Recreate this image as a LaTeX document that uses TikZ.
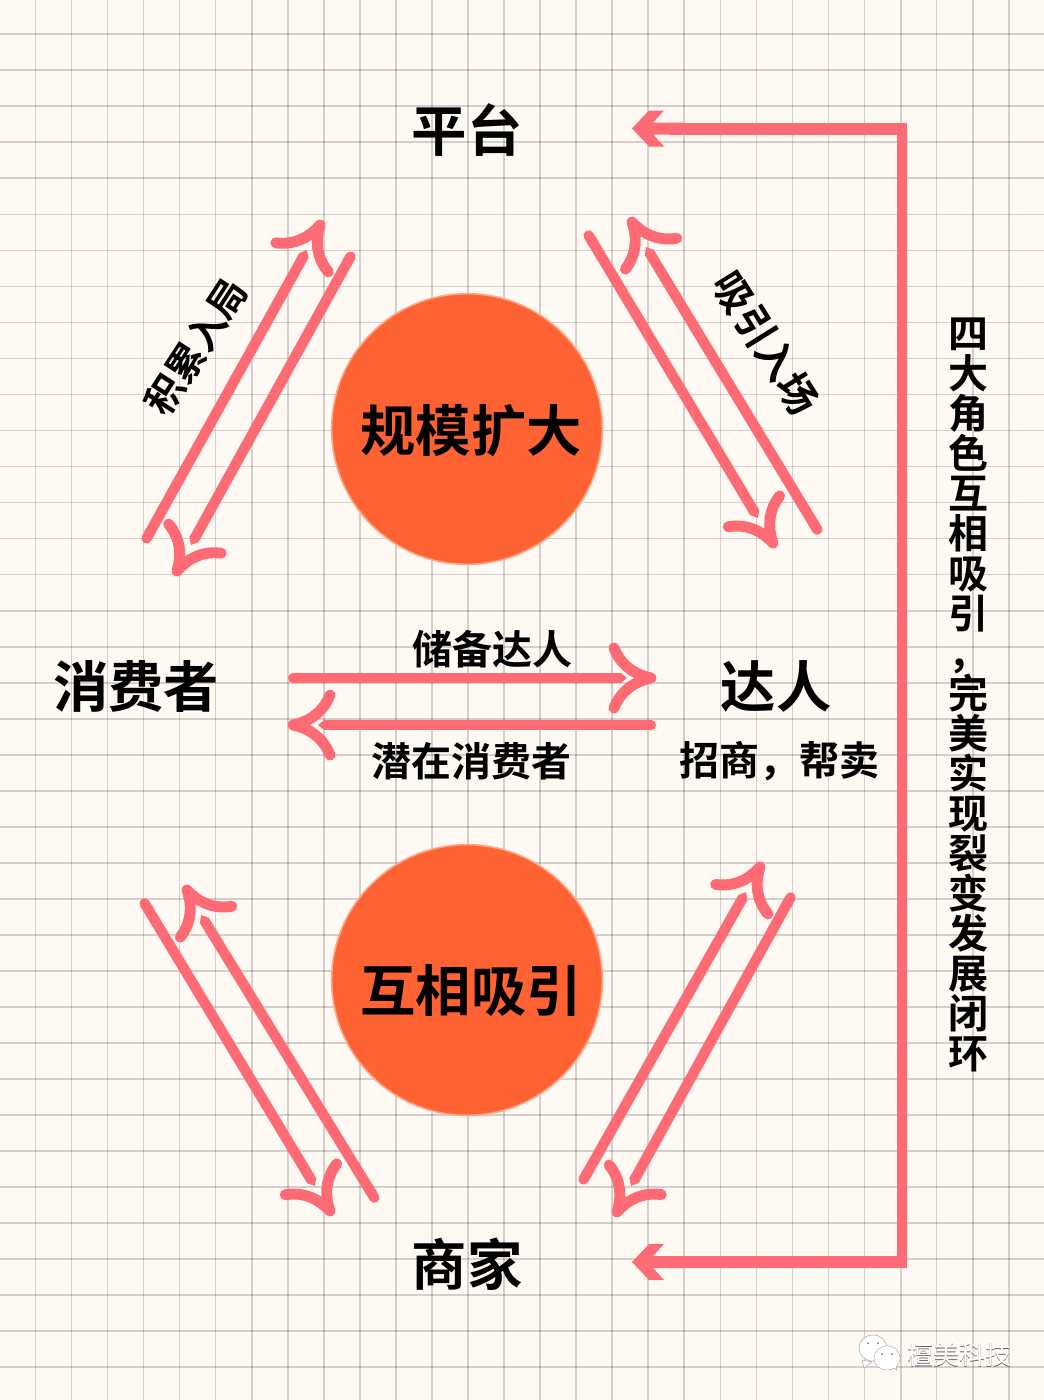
\documentclass[tikz,border=0pt]{standalone}
\usepackage{fontspec}
\setmainfont{Noto Sans CJK SC}
\newfontfamily\cjkbold{Noto Sans CJK SC Bold}
\usetikzlibrary{arrows.meta}
\definecolor{bgc}{HTML}{FFF9F3}
\definecolor{hlc}{HTML}{FF6B74}
\definecolor{disc}{HTML}{FF6333}
\tikzset{
  x=0.75pt,y=-0.75pt,
  gridln/.style={black,opacity=.17,line width=1.25pt},
  shaft/.style={hlc,line width=7.8pt,{Round Cap[]}-{Triangle[length=5pt,width=7.8pt]}},
  barbline/.style={hlc,line width=8.2pt,line cap=round,line join=round},
  barbs/.pic={\draw[barbline] (-37,-30) .. controls (-30,-12) and (-15,-3) .. (0,0) .. controls (-15,3) and (-30,12) .. (-37,30);},
  headpoly/.style={fill=hlc,draw=none},
  disk/.style={circle,fill=disc,draw=disc!55!bgc,line width=1.2pt,minimum size=203pt,inner sep=0pt},
  big/.style={font=\cjkbold\fontsize{41.5pt}{41.5pt}\selectfont,inner sep=0pt,text=black},
  small/.style={font=\cjkbold\fontsize{30pt}{30pt}\selectfont,inner sep=0pt,text=black},
  bighd/.pic={\fill[headpoly] (-32,0) -- (-15,-18) -- (0,-18) -- (-11,-6) -- (20,-6) -- (20,6) -- (-11,6) -- (0,18) -- (-15,18) -- cycle;},
}
\begin{document}
\begin{tikzpicture}
\useasboundingbox (0,0) rectangle (1044,1400);
\fill[bgc] (0,0) rectangle (1044,1400);
\foreach \k in {0,...,28} {\draw[gridln] ({35.4+36.05*\k},0) -- ({35.4+36.05*\k},1400);}
\foreach \k in {0,...,37} {\draw[gridln] (0,{34.2+36.03*\k}) -- (1044,{34.2+36.03*\k});}
\draw[black,opacity=.15,line width=.8pt] (901.7,0) -- (901.7,1400);
% discs
\node[disk] (d1) at (467,429) {};
\node[disk] (d2) at (467,980) {};
\node[big] (t1) at (471,431) {规模扩大};
\node[big] (t2) at (471,990) {互相吸引};
% roles
\node[big] (plat) at (467,130) {平台};
\node[big] (cons) at (136,686) {消费者};
\node[big] (kol) at (776,686) {达人};
\node[big] (merch) at (467,1264) {商家};
% labels
\node[small] (l1) at (492,649) {储备达人};
\node[small] (l2) at (471,761) {潜在消费者};
\node[small] (l3) at (779,761) {招商，帮卖};
\node[small,rotate=57,font=\cjkbold\fontsize{28.5pt}{28.5pt}\selectfont] (l4) at (196,347) {积累入局};
\node[small,rotate=-58] (l5) at (766,343) {吸引入场};
\node[small,align=center,font=\cjkbold\fontsize{30pt}{30pt}\selectfont] (l6) at (968,695) {四\\大\\角\\色\\互\\相\\吸\\引\\，\\完\\美\\实\\现\\裂\\变\\发\\展\\闭\\环};
% ends
\coordinate (a1) at (288,678); \coordinate (b1) at (627,678); \coordinate (c1) at (651,678);
\coordinate (a2) at (656,725); \coordinate (b2) at (318,725); \coordinate (c2) at (293,725);
\coordinate (a3) at (144,543); \coordinate (b3) at (307,250); \coordinate (c3) at (320,225);
\coordinate (a4) at (353,252); \coordinate (b4) at (191,545); \coordinate (c4) at (177,571);
\coordinate (a5) at (820,534); \coordinate (b5) at (646,247); \coordinate (c5) at (632,222);
\coordinate (a6) at (586,231); \coordinate (b6) at (758,518); \coordinate (c6) at (773,543);
\coordinate (a7) at (142,899); \coordinate (b7) at (315,1186); \coordinate (c7) at (330,1211);
\coordinate (a8) at (377,1202); \coordinate (b8) at (201,915); \coordinate (c8) at (187,890);
\coordinate (a9) at (581,1184); \coordinate (b9) at (746,892); \coordinate (c9) at (760,867);
\coordinate (a10) at (793,893); \coordinate (b10) at (631,1186); \coordinate (c10) at (617,1212);
\foreach \n/\r in {1/0,2/180,3/61,4/241,5/121,6/-59,7/-59,8/121,9/60.5,10/240.5}{
  \draw[shaft] (a\n) -- (b\n);
  \pic[rotate=\r] at (c\n) {barbs};
}
% bracket
\coordinate (e1) at (670,128); \coordinate (e2) at (902,128); \coordinate (e3) at (902,1262); \coordinate (e4) at (670,1262);
\coordinate (f1) at (664,128.5); \coordinate (f2) at (664,1262);
\fill[hlc] (e1 |- 0,122.5) rectangle (907,134.5);
\fill[hlc] (e4 |- 0,1256) rectangle (907,1268);
\draw[hlc,line width=7.5pt] (e2) -- (e3);
\pic at (f1) {bighd};
\pic at (f2) {bighd};
% watermark
\fill[white,draw=black!35,line width=.4pt] (873,1348) ellipse (14 and 13);
\fill[white,draw=black!35,line width=.4pt] (862,1360) -- (864,1368) -- (872,1362) -- cycle;
\fill[white,draw=black!35,line width=.4pt] (887,1358) ellipse (13 and 12);
\fill[white,draw=black!35,line width=.4pt] (892,1367) -- (897,1370) -- (896,1363) -- cycle;
\fill[white,draw=none] (887,1358) ellipse (12.6 and 11.6);
\foreach \p in {(868,1343),(878,1343),(882,1354),(892,1354)}{\fill[black!55] \p circle (1);}
\node[text=black!60,inner sep=0pt,font=\fontsize{19.5pt}{19.5pt}\selectfont] (w0) at (959.7,1355.7) {檀美科技};
\node[text=white,inner sep=0pt,font=\fontsize{19.5pt}{19.5pt}\selectfont] (w1) at (959,1355) {檀美科技};
\end{tikzpicture}
\end{document}
